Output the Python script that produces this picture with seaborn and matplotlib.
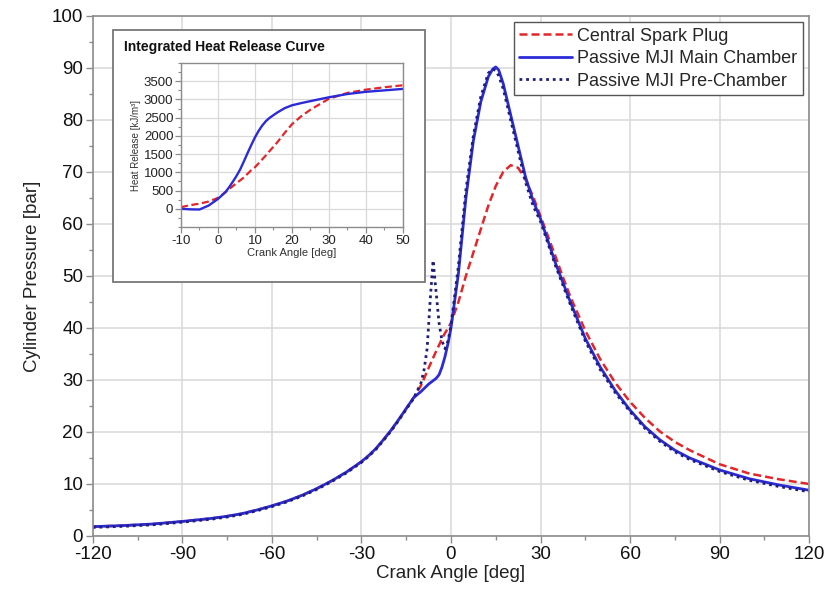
import matplotlib
matplotlib.use("Agg")
import matplotlib.pyplot as plt
from matplotlib.patches import Rectangle
from matplotlib.ticker import MultipleLocator
import seaborn as sns
import pandas as pd

# ---------------- data ----------------
# shared compression (motoring) part
comp_angle = [-120, -110, -100, -90, -80, -75, -70, -65, -60, -55, -50, -45, -40, -35, -30,
              -27.5, -25, -22.5, -20, -17.5, -15, -12.5]
comp_p = [1.8, 2.0, 2.3, 2.8, 3.4, 3.8, 4.3, 5.0, 5.8, 6.7, 7.8, 9.1, 10.6, 12.3, 14.3,
          15.5, 16.9, 18.6, 20.4, 22.4, 24.5, 26.6]

spark_angle = [-10, -7.5, -5, -2.5, 0, 2.5, 5, 7.5, 10, 12.5, 15, 17.5, 20, 22.5, 25, 27.5, 30,
               35, 37.5, 40, 45, 50, 55, 60, 65, 70, 75, 80, 90, 100, 110, 120]
spark_p = [29.0, 32.3, 35.5, 38.5, 41.0, 45.0, 50.0, 54.5, 59.0, 63.5, 67.3, 70.0, 71.3, 70.8, 68.5, 65.3, 61.5,
           53.8, 49.8, 46.0, 39.5, 34.0, 29.5, 25.8, 22.7, 20.1, 18.1, 16.5, 13.8, 12.0, 10.9, 10.0]

main_angle = [-10, -7.5, -5, -4, -3, -2, -1, 0, 2.5, 5, 7.5, 10, 12.5, 14, 15, 16, 17.5, 20, 22.5, 25, 27.5, 30,
              35, 40, 45, 50, 55, 60, 65, 70, 75, 80, 90, 100, 110, 120]
main_p = [27.8, 29.2, 30.3, 31.0, 32.5, 34.5, 37.0, 40.0, 50.5, 65.0, 76.0, 83.5, 88.3, 89.8, 90.2, 89.6, 87.0, 81.0, 75.0, 69.0, 64.5, 61.0,
          52.5, 45.0, 38.0, 32.5, 28.0, 24.2, 21.0, 18.5, 16.5, 15.0, 12.7, 11.0, 9.8, 8.8]

pre_angle = [-10, -9, -8, -7, -6, -5, -4, -3, -2, -1, 0, 2.5, 5, 7.5, 10, 12.5, 14, 15, 16, 17.5, 20, 22.5, 25, 27.5, 30,
             35, 40, 45, 50, 55, 60, 65, 70, 75, 80, 90, 100, 110, 120]
pre_p = [29.5, 32.0, 36.0, 45.0, 53.0, 47.0, 41.0, 37.5, 36.0, 37.5, 40.5, 52.0, 66.5, 77.0, 84.5, 89.0, 89.8, 89.5, 88.5, 86.0, 80.0, 74.0, 68.0, 63.5, 60.5,
         52.0, 44.5, 37.5, 32.0, 27.6, 23.9, 20.7, 18.2, 16.2, 14.7, 12.4, 10.7, 9.5, 8.5]

hr_angle = [-10, -7.5, -5, -2.5, 0, 2, 3, 4, 5, 6, 7, 8, 9, 10, 11, 12, 13, 14, 16, 18, 20, 22.5, 25, 30, 35, 40, 45, 50]
hr_main = [0, -15, -20, 90, 270, 455, 590, 740, 900, 1080, 1300, 1530, 1750, 1960, 2140, 2290, 2410, 2500, 2640, 2760, 2840, 2900, 2955, 3060, 3150, 3210, 3250, 3290]
hr_spark = [45, 100, 140, 200, 300, 455, 540, 620, 700, 780, 860, 960, 1060, 1140, 1250, 1360, 1470, 1590, 1820, 2080, 2320, 2540, 2720, 3020, 3180, 3270, 3335, 3390]

labels = ["Central Spark Plug", "Passive MJI Main Chamber", "Passive MJI Pre-Chamber"]

# ---------------- build tables ----------------
df_spark = pd.DataFrame({"angle": comp_angle + spark_angle, "p": comp_p + spark_p})
df_main = pd.DataFrame({"angle": comp_angle + main_angle, "p": comp_p + main_p})
df_pre = pd.DataFrame({"angle": comp_angle + pre_angle, "p": [v - 0.15 for v in comp_p] + pre_p})
df_hr = pd.DataFrame({"angle": hr_angle, "main": hr_main, "spark": hr_spark})

# ---------------- style ----------------
sns.set_style("whitegrid")
plt.rcParams["font.family"] = ["Liberation Sans", "DejaVu Sans"]
plt.rcParams["axes.unicode_minus"] = False

RED = "#e3262a"
BLUE = "#2b2bd8"
NAVY = "#1f1f7a"
GRID = "#d9d9d9"
SPINE = "#8c8c8c"

fig = plt.figure(figsize=(8.29, 5.98), dpi=100)
ax = fig.add_axes([0.112, 0.1037, 0.864, 0.8696])

sns.lineplot(data=df_spark, x="angle", y="p", ax=ax, color=RED, lw=1.8,
             linestyle=(0, (3.2, 1.6)), label=labels[0], estimator=None)
sns.lineplot(data=df_main, x="angle", y="p", ax=ax, color=BLUE, lw=2.0,
             label=labels[1], estimator=None)
sns.lineplot(data=df_pre, x="angle", y="p", ax=ax, color=NAVY, lw=2.0,
             linestyle=(0, (1, 1.4)), label=labels[2], estimator=None)

ax.set_xlim(-120, 120)
ax.set_ylim(0, 100)
ax.xaxis.set_major_locator(MultipleLocator(30))
ax.xaxis.set_minor_locator(MultipleLocator(15))
ax.yaxis.set_major_locator(MultipleLocator(10))
ax.yaxis.set_minor_locator(MultipleLocator(5))
ax.grid(True, which="major", color=GRID, lw=1.1)
ax.grid(False, which="minor")
ax.tick_params(which="major", direction="out", length=5, width=1, color=SPINE,
               labelsize=13.5, labelcolor="#111111", pad=2, bottom=True, left=True)
ax.tick_params(which="minor", direction="out", length=3, width=1, color=SPINE, bottom=True, left=True)
ax.set_xlabel("Crank Angle [deg]", fontsize=13.5, color="#222222", labelpad=2)
ax.set_ylabel("Cylinder Pressure [bar]", fontsize=13.5, color="#222222", labelpad=8)
for s in ax.spines.values():
    s.set_color(SPINE)
    s.set_linewidth(1.2)

leg = ax.legend(loc="upper right", fontsize=13, frameon=True, fancybox=False,
                framealpha=1, edgecolor="#555555", handlelength=2.9, handletextpad=0.3,
                borderpad=0.3, labelspacing=0.3, borderaxespad=0.35)
leg.get_frame().set_linewidth(1.0)

# ---------------- inset box ----------------
box = Rectangle((0.1363, 0.5284), 0.3764, 0.4214, transform=fig.transFigure,
                facecolor="white", edgecolor="#777777", lw=1.3, zorder=5)
fig.patches.append(box)
fig.text(124 / 829, 1 - 47 / 598, "Integrated Heat Release Curve", fontsize=10,
         fontweight="bold", va="center", ha="left", color="#111111", zorder=6)

ins = fig.add_axes([0.2183, 0.6204, 0.2678, 0.2742])
ins.set_zorder(6)
sns.lineplot(data=df_hr, x="angle", y="spark", ax=ins, color=RED, lw=1.6,
             linestyle=(0, (3.2, 1.6)), estimator=None)
sns.lineplot(data=df_hr, x="angle", y="main", ax=ins, color=BLUE, lw=1.7, estimator=None)
ins.set_xlim(-10, 50)
ins.set_ylim(-500, 4000)
ins.xaxis.set_major_locator(MultipleLocator(10))
ins.xaxis.set_minor_locator(MultipleLocator(5))
ins.set_yticks(range(0, 3501, 500))
ins.yaxis.set_minor_locator(MultipleLocator(250))
ins.grid(True, which="major", color=GRID, lw=0.9)
ins.tick_params(which="major", direction="out", length=4, width=0.9, color=SPINE,
                labelsize=9.5, labelcolor="#222222", pad=1.5, bottom=True, left=True)
ins.tick_params(which="minor", direction="out", length=2.5, width=0.8, color=SPINE, bottom=True, left=True)
ins.set_xlabel("Crank Angle [deg]", fontsize=8, color="#333333", labelpad=1)
ins.set_ylabel("Heat Release [kJ/m³]", fontsize=7, color="#333333", labelpad=2)
for s in ins.spines.values():
    s.set_color(SPINE)
    s.set_linewidth(1.0)

fig.savefig("out.png", dpi=100)
